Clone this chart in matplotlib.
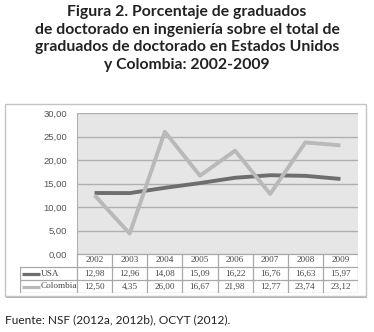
import matplotlib
matplotlib.use("Agg")
import matplotlib.pyplot as plt
from matplotlib.patches import Rectangle
from matplotlib.lines import Line2D

# Data
years = ["2002", "2003", "2004", "2005", "2006", "2007", "2008", "2009"]
usa = [12.98, 12.96, 14.08, 15.09, 16.22, 16.76, 16.63, 15.97]
colombia = [12.50, 4.35, 26.00, 16.67, 21.98, 12.77, 23.74, 23.12]
series_names = ["USA", "Colombia"]
series_colors = ["#6e6e6e", "#b9b9b9"]
yticks = [0, 5, 10, 15, 20, 25, 30]

title = ("Figura 2. Porcentaje de graduados\n"
         "de doctorado en ingeniería sobre el total de\n"
         "graduados de doctorado en Estados Unidos\n"
         "y Colombia: 2002-2009")
source = "Fuente: NSF (2012a, 2012b), OCYT (2012)."

W, H = 374, 332
fig = plt.figure(figsize=(W / 100, H / 100), dpi=100)


def px(x0, y0, x1, y1):
    # pixel box (top-left origin) -> figure fraction rect
    return [x0 / W, 1 - y1 / H, (x1 - x0) / W, (y1 - y0) / H]


# outer chart frame with a small shadow
fig.patches.append(Rectangle((6 / W, 1 - 298 / H), 361 / W, 193 / H,
                             transform=fig.transFigure, facecolor="#b0b0b0",
                             edgecolor="none", zorder=-2))
fig.patches.append(Rectangle((5 / W, 1 - 296 / H), 361 / W, 192 / H,
                             transform=fig.transFigure, facecolor="white",
                             edgecolor="#c4c4c4", lw=1, zorder=-1))

fig.text(0.5, 1 - 5 / H, title, ha="center", va="top", fontsize=11.3,
         fontweight="bold", family="Lato", color="#222222", linespacing=1.33)
fig.text(5 / W, 1 - 320 / H, source, ha="left", va="center", fontsize=8.6,
         family="Lato", color="#222222")

# main plot
ax = fig.add_axes(px(77, 113, 358, 254))
ax.set_facecolor("#e6e6e6")
x = range(len(years))
for vals, c in zip([usa, colombia], series_colors):
    ax.plot(x, vals, color=c, lw=2.8, solid_capstyle="butt", zorder=3)
ax.set_xlim(-0.5, len(years) - 0.5)
ax.set_ylim(0, 30)
ax.set_yticks(yticks)
ax.set_yticklabels([f"{v:.2f}".replace(".", ",") for v in yticks],
                   fontsize=6.8, color="#555555", family="Liberation Sans")
ax.tick_params(axis="y", length=0, pad=7)
ax.set_xticks([])
ax.yaxis.grid(True, color="#b0b0b0", lw=1)
ax.set_axisbelow(True)
for s in ["top", "right", "bottom"]:
    ax.spines[s].set_visible(False)
ax.spines["left"].set_color("#b0b0b0")

# data table below, sharing the column scale of the plot
col_w = 281 / len(years)
lab_w = (77 - 20) / col_w
tax = fig.add_axes(px(20, 254, 358, 293))
tax.set_xlim(-0.5 - lab_w, len(years) - 0.5)
tax.set_ylim(3, 0)
tax.axis("off")
lc = "#a8a8a8"
tc = "#444444"
tfont = dict(fontsize=6.6, color=tc, family="Liberation Serif",
             ha="center", va="center")
tax.add_line(Line2D([-0.5, len(years) - 0.5], [0, 0], color=lc, lw=0.9))
for r in [1, 2, 3]:
    tax.add_line(Line2D([-0.5 - lab_w, len(years) - 0.5], [r, r], color=lc, lw=0.9))
for k in range(len(years) + 1):
    tax.add_line(Line2D([k - 0.5, k - 0.5], [0, 3], color=lc, lw=0.9))
tax.add_line(Line2D([-0.5 - lab_w] * 2, [1, 3], color=lc, lw=0.9))
for i, yr in enumerate(years):
    tax.text(i, 0.5, yr, **tfont)
for r, (name, vals, c) in enumerate(zip(series_names, [usa, colombia], series_colors)):
    yy = r + 1.5
    tax.add_line(Line2D([-0.5 - lab_w + 0.06, -0.5 - lab_w + 0.56], [yy, yy],
                        color=c, lw=2.3, solid_capstyle="butt"))
    tax.text(-0.5 - lab_w + 0.58, yy, name, fontsize=6.6, color=tc,
             family="Liberation Serif", ha="left", va="center")
    for i, v in enumerate(vals):
        tax.text(i, yy, f"{v:.2f}".replace(".", ","), **tfont)

fig.savefig("out.png", dpi=100)
